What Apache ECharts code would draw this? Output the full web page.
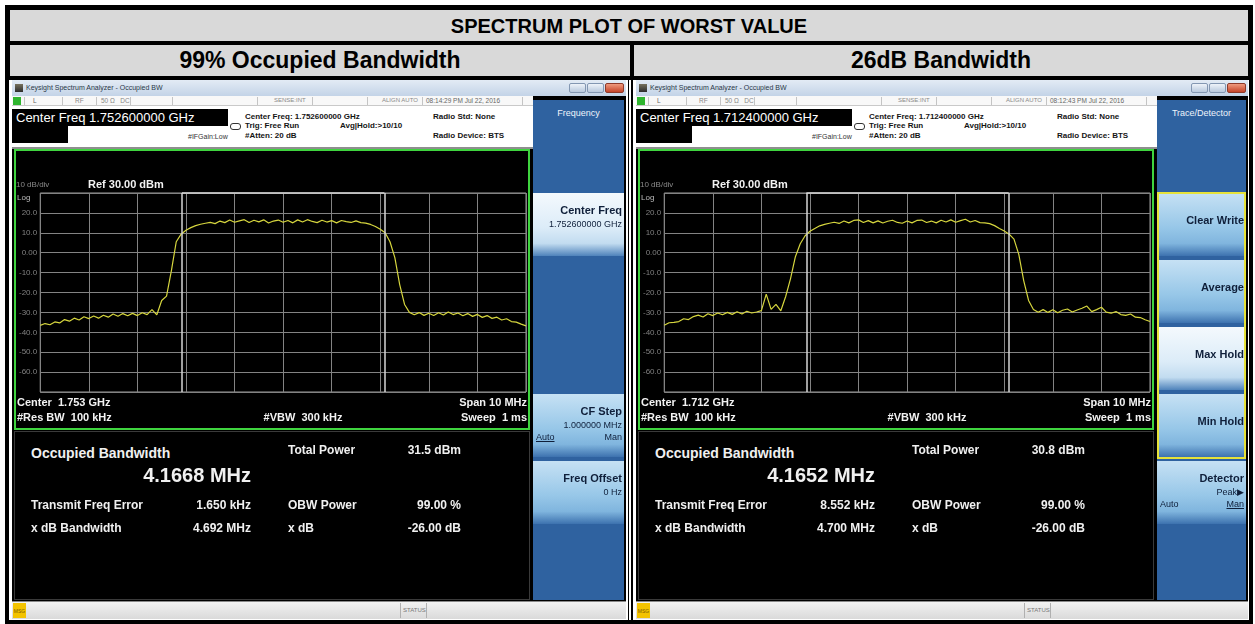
<!DOCTYPE html>
<html lang="en">
<head>
<meta charset="UTF-8" />
<title>Spectrum plot of worst value</title>
<script src="https://cdn.jsdelivr.net/npm/echarts@6/dist/echarts.min.js"></script>
<style>
  body { margin: 0; background: #fff; font-family: "Liberation Sans", Arial, sans-serif; }
  #page { position: relative; width: 1255px; height: 624px; overflow: hidden; background: #fff; }
</style>
</head>
<body>
<div id="page"></div>
<script>
// sweep: 101 points over 10 MHz span, values in dBm
var sweepStepMHz = 0.1;
var spanMHz = 10;
var refLevel = 30;
var dbPerDiv = 10;

var traceOBW = [
  -36.5, -35.6, -36.2, -34.8, -35.3, -33.6, -34.4, -32.9, -33.8, -32.2,
  -33.1, -31.8, -32.9, -31.4, -32.4, -30.8, -31.9, -30.6, -31.7, -30.5,
  -31.6, -30.2, -31.1, -28.6, -31.2, -24.0, -21.8, -9.0, 5.5, 9.3,
  11.3, 12.6, 13.6, 14.3, 14.8, 15.2, 14.6, 15.9, 15.1, 16.4,
  15.3, 16.0, 16.6, 15.2, 16.3, 15.5, 16.5, 14.9, 15.9, 16.4,
  15.3, 16.2, 15.0, 16.5, 15.4, 16.6, 15.7, 15.1, 16.3, 15.4,
  16.1, 15.0, 16.2, 15.6, 15.2, 16.0, 15.1, 14.9, 14.2, 13.2,
  11.8, 10.0, 5.5, -2.5, -16.0, -26.0, -30.0, -31.2, -30.1, -31.5,
  -30.4, -31.6, -30.2, -31.3, -29.8, -31.1, -30.3, -31.7, -30.6, -32.0,
  -31.0, -32.5, -31.6, -33.0, -32.4, -33.8, -33.2, -34.6, -34.9, -35.9,
  -36.8
];

var trace26dB = [
  -36.5, -35.2, -35.0, -34.6, -33.2, -33.6, -32.1, -31.4, -32.3, -30.7,
  -31.6, -30.3, -31.2, -30.0, -31.0, -29.7, -30.8, -29.4, -30.3, -29.8,
  -29.1, -20.8, -28.5, -26.0, -29.2, -22.0, -13.0, -2.0, 4.5, 8.5,
  10.8, 12.2, 13.5, 14.2, 14.8, 15.3, 14.7, 15.9, 15.0, 16.2,
  16.5, 15.2, 16.1, 15.0, 16.0, 14.9, 15.8, 16.3, 15.2, 14.8,
  15.9, 15.0, 16.2, 16.4, 15.2, 15.9, 15.0, 16.3, 15.4, 16.5,
  15.3, 16.1, 16.8, 15.4, 16.2, 15.1, 15.0, 14.6, 13.6, 12.2,
  10.9, 9.3, 6.8, -1.0, -14.0, -24.0, -28.5, -29.9, -28.6, -30.0,
  -28.7, -30.2, -28.9, -28.3, -29.8, -28.8, -27.9, -26.8, -29.6, -28.6,
  -27.4, -29.9, -30.4, -29.6, -31.1, -31.5, -30.8, -32.4, -32.6, -33.7,
  -34.6
];

var tableTitle = 'SPECTRUM PLOT OF WORST VALUE';
var panelTitles = ['99% Occupied Bandwidth', '26dB Bandwidth'];
var centerFreqGHz = ['1.752600000', '1.712400000'];
var centerShortGHz = ['1.753', '1.712'];
var timeStamps = ['08:14:29 PM Jul 22, 2016', '08:12:43 PM Jul 22, 2016'];
var occupiedBwMHz = ['4.1668', '4.1652'];
var totalPowerDbm = ['31.5', '30.8'];
var freqErrorKHz = ['1.650', '8.552'];
var xdbBwMHz = ['4.692', '4.700'];
var menuTitles = ['Frequency', 'Trace/Detector'];

var freqKeys = [
  { slot: 0, label: 'Center Freq', value: '1.752600000 GHz', sel: true },
  { slot: 3, label: 'CF Step', value: '1.000000 MHz', auto: 'Auto', man: 'Man', under: 'auto' },
  { slot: 4, label: 'Freq Offset', value: '0 Hz' }
];
var traceKeys = [
  { slot: 0, label: 'Clear Write' },
  { slot: 1, label: 'Average' },
  { slot: 2, label: 'Max Hold', sel: true },
  { slot: 3, label: 'Min Hold' },
  { slot: 4, label: 'Detector', value: 'Peak\u25B6', auto: 'Auto', man: 'Man', under: 'man' }
];

var FONT = '"Liberation Sans", Arial, sans-serif';
var page = document.getElementById('page');

function box(parent, x, y, w, h, bg, extra) {
  var d = document.createElement('div');
  d.style.cssText = 'position:absolute;left:' + x + 'px;top:' + y + 'px;width:' + w + 'px;height:' + h +
    'px;background:' + bg + ';box-sizing:border-box;' + (extra || '');
  parent.appendChild(d);
  return d;
}

function text(parent, s, x, y, size, o) {
  o = o || {};
  var align = o.align || 'left';
  var left = x, width = '';
  if (align === 'right') { left = x - 400; width = 'width:400px;'; }
  if (align === 'center') { left = x - 200; width = 'width:400px;'; }
  var d = document.createElement('div');
  d.style.cssText = 'position:absolute;left:' + left + 'px;top:' + (y - size * 0.6) + 'px;' + width +
    'line-height:' + (size * 1.2) + 'px;font-size:' + size + 'px;white-space:pre;text-align:' + align +
    ';color:' + (o.color || '#000') + ';font-weight:' + (o.bold ? 'bold' : 'normal') + ';' + (o.css || '');
  d.textContent = s;
  parent.appendChild(d);
  return d;
}

// table frame
box(page, 5, 5, 1248, 619, '#000');
box(page, 10, 10, 1238, 31, '#d9d9d9');
box(page, 10, 45, 620, 31, '#d9d9d9');
box(page, 634, 45, 614, 31, '#d9d9d9');
box(page, 9, 80, 619, 540, '#fff');
box(page, 633, 80, 616, 540, '#fff');
box(page, 629, 80, 2, 540, '#fff');
text(page, tableTitle, 629, 26, 20, { align: 'center', bold: true });
text(page, panelTitles[0], 320, 61, 23, { align: 'center', bold: true });
text(page, panelTitles[1], 941, 61, 23, { align: 'center', bold: true });

function gtext(s, x, y, size, color, bold, align) {
  return {
    type: 'text', x: x, y: y, silent: true,
    style: {
      text: s, fill: color, font: (bold ? 'bold ' : '') + size + 'px ' + FONT,
      textAlign: align || 'left', textVerticalAlign: 'middle'
    }
  };
}

function spectrumOption(trace, ci) {
  var c = spanMHz / 2 + parseFloat(freqErrorKHz[ci]) / 1000;
  var half = parseFloat(occupiedBwMHz[ci]) / 2;
  var xl = c - half, xr = c + half;
  var bottom = refLevel - 10 * dbPerDiv;
  return {
    backgroundColor: '#000',
    animation: false,
    grid: { left: 22, right: 2, top: 42, bottom: 36, show: true, borderColor: '#9a9a9a', borderWidth: 1 },
    xAxis: {
      type: 'value', min: 0, max: spanMHz, interval: 1,
      axisLine: { show: false }, axisTick: { show: false }, axisLabel: { show: false },
      splitLine: { show: true, lineStyle: { color: '#838383', width: 1 } }
    },
    yAxis: {
      type: 'value', min: bottom, max: refLevel, interval: dbPerDiv,
      axisLine: { show: false }, axisTick: { show: false },
      axisLabel: {
        color: '#808080', fontSize: 8, margin: 3, fontFamily: FONT,
        formatter: function (v) {
          if (v === refLevel || v === bottom) return '';
          return v === 0 ? '0.00' : v.toFixed(1);
        }
      },
      splitLine: { lineStyle: { color: '#838383', width: 1 } }
    },
    series: [{
      type: 'line',
      data: trace.map(function (v, i) { return [i * sweepStepMHz, v]; }),
      symbol: 'none',
      lineStyle: { color: '#d6d63e', width: 1.2 },
      markLine: {
        silent: true, symbol: 'none', label: { show: false },
        lineStyle: { color: '#d6d6d6', width: 1.5, type: 'solid' },
        data: [
          [{ coord: [xl, refLevel] }, { coord: [xl, bottom] }],
          [{ coord: [xr, refLevel] }, { coord: [xr, bottom] }],
          [{ coord: [xl, refLevel] }, { coord: [xr, refLevel] }]
        ]
      }
    }],
    graphic: [
      gtext('10 dB/div', 0, 34, 8, '#8a8a8a'),
      gtext('Ref 30.00 dBm', 72, 34, 11, '#f2f2f2', true),
      gtext('Log', 1, 47, 8, '#bdbdbd'),
      gtext('Center  ' + centerShortGHz[ci] + ' GHz', 1, 252, 11, '#f2f2f2', true),
      gtext('#Res BW  100 kHz', 1, 267, 11, '#f2f2f2', true),
      gtext('#VBW  300 kHz', 287, 267, 11, '#f2f2f2', true, 'center'),
      gtext('Span 10 MHz', 511, 252, 11, '#f2f2f2', true, 'right'),
      gtext('Sweep  1 ms', 511, 267, 11, '#f2f2f2', true, 'right')
    ]
  };
}

function softkey(p, w, k) {
  var top = 113 + 67 * k.slot;
  var kw = w - 523;
  var grad = k.sel
    ? 'linear-gradient(to bottom,#f4f9fd 0%,#dcecf8 55%,#c2dcf0 80%,#4f83bb 100%)'
    : 'linear-gradient(to bottom,#c6e1f4 0%,#97c7e8 55%,#80b5de 80%,#3d72af 100%)';
  box(p, 521, top, kw, 63, grad);
  var rx = w - 4;
  if (k.value) {
    text(p, k.label, rx, top + 18, 11, { align: 'right', bold: true, color: '#0f1f3a' });
    text(p, k.value, rx, top + 31, 9, { align: 'right', color: '#0f1f3a' });
  } else {
    text(p, k.label, rx, top + 28, 11, { align: 'right', bold: true, color: '#0f1f3a' });
  }
  if (k.auto) {
    text(p, k.auto, 524, top + 43, 9, { color: '#0f1f3a', css: k.under === 'auto' ? 'text-decoration:underline;' : '' });
    text(p, k.man, rx, top + 43, 9, { align: 'right', color: '#0f1f3a', css: k.under === 'man' ? 'text-decoration:underline;' : '' });
  }
}

function buildPanel(x0, w, ci, trace, keys, outlined) {
  var p = box(page, x0, 80, w, 539, '#000', 'overflow:hidden;font-family:' + FONT + ';');

  // window title bar
  box(p, 0, 0, w, 16, 'linear-gradient(#e3ebf5,#c3d3e7)');
  box(p, 3, 4, 8, 8, 'linear-gradient(#77725e,#2c2c2c)');
  text(p, 'Keysight Spectrum Analyzer - Occupied BW', 14, 8, 7, { color: '#2a3848' });
  box(p, w - 57, 3, 17, 10, 'linear-gradient(#eef3f9,#b8c9de)', 'border:1px solid #8397b2;border-radius:2px;');
  box(p, w - 39, 3, 17, 10, 'linear-gradient(#eef3f9,#b8c9de)', 'border:1px solid #8397b2;border-radius:2px;');
  box(p, w - 21, 3, 19, 10, 'linear-gradient(#ef9a7e,#c6452a)', 'border:1px solid #8e3a2a;border-radius:2px;');

  // instrument status row
  box(p, 0, 16, 521, 10, '#f8f8f8', 'border-bottom:1px solid #c9c9c9;');
  box(p, 1, 17, 8, 8, '#2fb52f');
  [12, 50, 84, 118, 160, 245, 300, 355, 410, 510].forEach(function (sx) {
    box(p, sx, 17, 1, 8, '#c4c4c4');
  });
  text(p, 'L', 21, 21, 6.5, { color: '#666' });
  text(p, 'RF', 63, 21, 6.5, { color: '#888' });
  text(p, '50 \u03A9   DC', 89, 21, 6.5, { color: '#888' });
  text(p, 'SENSE:INT', 262, 21, 6, { color: '#888' });
  text(p, 'ALIGN AUTO', 370, 21, 6, { color: '#888' });
  text(p, timeStamps[ci], 414, 21, 6.5, { color: '#666' });

  // meas bar
  box(p, 0, 26, 521, 41, '#fff');
  box(p, 0, 29, 216, 17, '#000');
  box(p, 0, 46, 56, 17, '#000');
  text(p, 'Center Freq ' + centerFreqGHz[ci] + ' GHz', 4, 37.5, 13, { color: '#fff' });
  text(p, '#IFGain:Low', 176, 57, 7, { color: '#333' });
  box(p, 218, 43, 11, 7, 'transparent', 'border:1px solid #333;border-radius:3px;');
  text(p, 'Center Freq: ' + centerFreqGHz[ci] + ' GHz', 233, 37, 8, { bold: true, color: '#151515' });
  text(p, 'Trig: Free Run', 233, 46, 8, { bold: true, color: '#151515' });
  text(p, '#Atten: 20 dB', 233, 56, 8, { bold: true, color: '#151515' });
  text(p, 'Avg|Hold:>10/10', 328, 46, 8, { bold: true, color: '#151515' });
  text(p, 'Radio Std: None', 421, 37, 8, { bold: true, color: '#151515' });
  text(p, 'Radio Device: BTS', 421, 56, 8, { bold: true, color: '#151515' });
  box(p, 0, 67, 521, 2, '#8f8f8f');

  // graph window
  var chartDiv = box(p, 4, 71, 512, 277, '#000');
  box(p, 2, 69, 516, 281, 'transparent', 'border:2px solid #3fd43f;');
  var chart = echarts.init(chartDiv, null, { renderer: 'canvas' });
  chart.setOption(spectrumOption(trace, ci));

  // results window
  box(p, 2, 351, 516, 169, '#000', 'border:1px solid #3a3a3a;');
  var wc = '#f0f0f0';
  text(p, 'Occupied Bandwidth', 19, 373, 14, { bold: true, color: wc });
  text(p, occupiedBwMHz[ci] + ' MHz', 239, 395, 20, { bold: true, color: wc, align: 'right' });
  text(p, 'Total Power', 276, 370, 12, { bold: true, color: wc });
  text(p, totalPowerDbm[ci] + ' dBm', 449, 370, 12, { bold: true, color: wc, align: 'right' });
  text(p, 'Transmit Freq Error', 19, 425, 12, { bold: true, color: wc });
  text(p, freqErrorKHz[ci] + ' kHz', 239, 425, 12, { bold: true, color: wc, align: 'right' });
  text(p, 'OBW Power', 276, 425, 12, { bold: true, color: wc });
  text(p, '99.00 %', 449, 425, 12, { bold: true, color: wc, align: 'right' });
  text(p, 'x dB Bandwidth', 19, 448, 12, { bold: true, color: wc });
  text(p, xdbBwMHz[ci] + ' MHz', 239, 448, 12, { bold: true, color: wc, align: 'right' });
  text(p, 'x dB', 276, 448, 12, { bold: true, color: wc });
  text(p, '-26.00 dB', 449, 448, 12, { bold: true, color: wc, align: 'right' });

  // bottom status bar
  box(p, 0, 521, w, 18, 'linear-gradient(#f2f2f2,#dadada)', 'border-top:1px solid #8a8a8a;');
  box(p, 1, 523, 13, 15, '#f3c300');
  text(p, 'MSG', 7.5, 530.5, 5, { align: 'center', color: '#7a5a00' });
  box(p, 388, 523, 1, 15, '#b0b0b0');
  box(p, 414, 523, 1, 15, '#b0b0b0');
  text(p, 'STATUS', 391, 530.5, 6, { color: '#777' });

  // softkey panel
  box(p, 521, 20, w - 523, 500, '#2f62a0');
  text(p, menuTitles[ci], 521 + (w - 523) / 2, 33, 9, { align: 'center', color: '#eef4fb' });
  keys.forEach(function (k) { softkey(p, w, k); });
  if (outlined) {
    box(p, 521, 112, w - 523, 267, 'transparent', 'border:2px solid #e6e23a;');
  }
}

buildPanel(12, 614, 0, traceOBW, freqKeys, false);
buildPanel(636, 612, 1, trace26dB, traceKeys, true);
</script>
</body>
</html>
